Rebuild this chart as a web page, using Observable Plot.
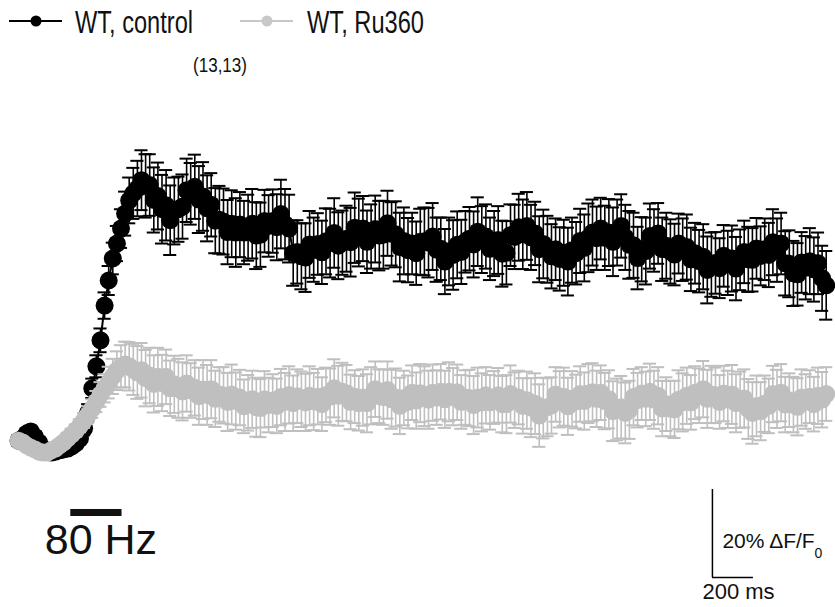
<!DOCTYPE html>
<html><head><meta charset="utf-8">
<script src="https://cdn.jsdelivr.net/npm/d3@7"></script>
<script src="https://cdn.jsdelivr.net/npm/@observablehq/plot@0.6"></script>
<style>
body{margin:0;background:#fff;}
#wrap{position:relative;width:835px;height:607px;overflow:hidden;font-family:"Liberation Sans",Arial,sans-serif;}
#legend{position:absolute;left:0;top:0;}
#chart{position:absolute;left:0;top:0;}
</style></head><body><div id="wrap"><div id="chart"></div></div>
<script>
// ---- data (ΔF/F0 in %, sampled every 20 ms) ----
const sampleIntervalMs = 20;
const seriesNames = ["WT, control", "WT, Ru360"];
const nLabel = "(13,13)";

const controlMean = [
 1.1,1.6,2.7,3.2,2.0,0.7,-0.7,-1.4,-1.6,-1.4,
 -1.1,-0.9,-0.7,-0.2,0.5,1.6,3.9,7.5,13.0,18.0,
 23.9,31.8,37.5,42.5,45.9,49.3,52.7,55.7,57.3,58.4,
 60.3,59.0,59.2,55.8,56.7,53.7,54.6,51.2,53.3,53.7,
 54.3,58.0,57.2,58.8,55.9,56.6,53.9,54.7,51.1,51.3,
 50.9,48.5,50.4,48.4,50.2,48.4,49.5,50.4,47.7,47.9,
 51.0,49.9,51.0,49.6,52.6,50.3,49.3,43.7,44.0,43.0,
 42.7,45.7,44.5,45.8,43.9,46.4,46.0,48.3,45.4,46.1,
 47.0,46.2,49.5,48.4,49.3,46.3,47.5,49.2,47.7,47.9,
 50.5,48.1,48.0,45.1,46.5,44.4,45.9,43.7,46.3,46.4,
 46.1,47.5,44.5,44.7,41.8,44.1,43.3,45.6,44.0,46.3,
 47.0,45.7,48.6,46.8,47.5,44.7,45.9,46.7,43.6,43.8,
 47.8,47.4,49.6,48.0,49.9,47.3,48.2,44.6,45.8,44.6,
 43.0,44.6,42.4,43.8,41.8,44.4,43.7,46.5,44.9,47.2,
 48.4,47.1,49.3,47.2,48.4,46.3,48.4,49.9,47.3,45.6,
 45.5,42.6,44.6,44.2,47.6,46.6,48.2,44.6,45.4,44.1,
 43.4,45.9,44.5,45.1,42.3,43.7,41.9,42.9,39.9,41.1,
 41.5,40.3,43.1,41.5,42.5,40.2,42.2,44.0,42.3,42.2,
 44.8,43.1,44.6,43.3,46.2,44.4,45.9,41.4,41.3,39.1,
 38.9,41.6,40.4,41.9,40.0,41.4,38.0,36.4
];
const controlSem = [
 1.2,1.0,1.1,1.3,1.0,0.9,1.1,1.2,1.0,1.1,1.2,1.0,1.1,1.3,1.2,1.4,
 1.6,1.9,2.2,2.5,2.7,3.0,3.3,3.6,4.0,4.4,5.0,
 5.2,5.8,6.3,6.8,7.2,7.0,7.4,7.6,7.8,8.0,7.9,7.6,7.4,7.3,
 7.2,7.0,7.3,7.6,7.8,7.5,7.2,7.4,7.7,7.5,
 7.3,7.6,7.8,7.4,7.2,7.5,7.9,7.6,7.3,7.1,
 7.0,7.2,7.5,7.8,8.0,7.7,7.4,7.2,7.5,7.8,
 7.6,7.3,7.0,7.2,7.5,7.8,7.9,7.6,7.3,7.5,
 7.8,8.0,7.7,7.4,7.1,7.3,7.6,7.9,7.7,7.4,
 7.2,7.5,7.8,7.6,7.3,7.0,7.2,7.5,7.7,7.9,
 7.6,7.3,7.1,7.4,7.7,7.9,7.6,7.3,7.0,7.2,
 7.5,7.8,7.6,7.3,7.1,7.4,7.7,7.5,7.2,7.0,
 7.3,7.6,7.9,7.7,7.4,7.2,7.5,7.8,7.6,7.3,
 7.0,7.2,7.5,7.7,7.4,7.1,7.3,7.6,7.8,7.5,
 7.2,7.0,7.3,7.6,7.8,7.5,7.2,7.4,7.7,7.4,
 7.1,7.3,7.6,7.4,7.1,6.9,7.2,7.5,7.3,7.0,
 6.8,7.1,7.4,7.2,6.9,7.1,7.4,7.6,7.3,7.0,
 6.8,7.0,7.3,7.5,7.2,6.9,7.1,7.4,7.2,6.9,
 6.7,7.0,7.3,7.5,7.2,7.0,7.3,7.6,7.4,7.1,
 6.9,7.2,7.5,7.3,7.0,7.4,7.8
];
const ru360Mean = [
 1.1,0.7,0.0,-0.5,-0.9,-1.4,-1.6,-1.6,-1.1,-0.7,
 0.0,0.7,1.6,2.5,3.4,4.5,5.7,7.0,8.4,10.0,
 11.6,13.0,14.3,15.7,17.0,18.0,18.4,18.0,17.3,16.6,
 17.1,15.3,15.9,14.0,15.6,14.2,15.6,13.0,13.9,13.0,
 12.3,14.1,12.5,13.1,11.2,12.7,11.5,12.8,10.6,11.6,
 11.4,9.9,11.6,10.1,10.9,8.9,9.7,10.5,8.7,8.5,
 10.5,9.2,10.2,9.0,11.0,9.9,11.5,9.6,11.2,10.5,
 9.8,11.3,10.0,11.1,9.4,11.5,11.1,13.0,11.3,12.2,
 11.9,9.9,11.1,9.6,10.9,9.6,11.3,12.8,11.2,11.0,
 12.6,10.5,10.9,9.0,10.8,9.9,12.0,10.2,11.9,11.2,
 10.4,12.0,10.9,12.2,10.5,12.2,11.1,12.1,9.9,10.9,
 10.8,9.2,10.9,9.8,11.4,9.8,10.9,11.4,9.4,9.4,
 11.7,10.3,10.9,9.0,10.3,8.6,9.5,6.8,8.5,8.7,
 9.1,11.6,10.5,11.1,8.9,10.6,10.0,11.7,10.1,11.8,
 12.1,10.6,12.0,10.1,10.5,7.8,8.2,8.7,7.4,8.1,
 11.0,10.3,11.8,10.6,12.2,10.4,11.3,8.4,9.4,8.4,
 8.2,10.4,9.8,11.3,9.8,12.0,11.3,12.8,10.6,11.6,
 11.4,9.9,11.8,10.5,11.6,9.6,10.4,10.7,8.3,7.4,
 9.0,7.8,9.5,9.0,11.7,10.6,12.0,9.3,10.3,9.3,
 8.8,10.9,10.0,11.1,9.4,11.3,10.4,11.7
];
const ru360Sem = [
 1.0,0.9,1.0,1.1,1.0,0.9,1.0,1.1,1.0,0.9,1.0,1.1,1.2,1.3,1.4,1.5,
 1.7,1.9,2.1,2.4,2.8,3.2,3.6,4.0,4.4,4.8,5.2,
 5.5,5.8,6.0,6.2,6.4,6.3,6.5,6.6,6.4,6.2,
 6.3,6.5,6.7,6.6,6.4,6.2,6.3,6.5,6.7,6.8,
 6.6,6.4,6.2,6.4,6.6,6.8,6.5,6.3,6.1,6.3,
 6.5,6.7,6.6,6.4,6.2,6.0,6.2,6.4,6.6,6.5,
 6.3,6.1,6.3,6.5,6.7,6.5,6.3,6.1,6.2,6.4,
 6.6,6.8,6.6,6.4,6.2,6.0,6.2,6.4,6.6,6.5,
 6.3,6.1,6.3,6.5,6.7,6.6,6.4,6.2,6.0,6.2,
 6.4,6.6,6.8,6.6,6.4,6.2,6.3,6.5,6.7,6.5,
 6.3,6.1,6.2,6.4,6.6,6.8,6.6,6.4,6.2,6.0,
 6.2,6.4,6.6,6.5,6.3,6.1,6.3,6.5,6.7,6.9,
 7.1,6.9,6.6,6.4,6.2,6.4,6.6,6.5,6.3,6.1,
 6.3,6.5,6.7,6.6,6.4,6.2,6.4,6.6,6.8,7.0,
 7.1,6.9,6.6,6.4,6.2,6.0,6.2,6.4,6.6,6.5,
 6.3,6.1,6.3,6.5,6.7,6.6,6.4,6.2,6.0,6.2,
 6.4,6.6,6.5,6.3,6.1,6.3,6.5,6.7,6.6,6.4,
 6.6,6.8,7.0,6.9,6.6,6.4,6.2,6.4,6.6,6.5,
 6.3,6.1,6.3,6.5,6.4,6.2,6.0,6.2,6.4,6.3,6.1
];
// stimulus (80 Hz train) and scale bar, in data units
const stimulus = [{start: 255, end: 505, level: -15.2, label: "80 Hz"}];
const scaleBar = [{t: 3385, v: -30, dt: 200, dv: 20, vLabel: "20% ΔF/F", vSub: "0", tLabel: "200 ms"}];

const colors = {control: "#000000", ru360: "#bfbfbf"};

function build(mean, sem) {
  const n = Math.min(mean.length, sem.length);
  const out = [];
  for (let i = 0; i < n; i++) out.push({t: i * sampleIntervalMs, v: mean[i], e: sem[i]});
  return out;
}
const control = build(controlMean, controlSem);
const ru360 = build(ru360Mean, ru360Sem);

const capHalfMs = 32;
function seriesMarks(data, color) {
  return [
    Plot.line(data, {x: "t", y: "v", stroke: color, strokeWidth: 2}),
    Plot.ruleX(data, {x: "t", y1: d => d.v - d.e, y2: d => d.v + d.e, stroke: color, strokeWidth: 1.6}),
    Plot.ruleY(data, {y: d => d.v + d.e, x1: d => d.t - capHalfMs, x2: d => d.t + capHalfMs, stroke: color, strokeWidth: 2}),
    Plot.ruleY(data, {y: d => d.v - d.e, x1: d => d.t - capHalfMs, x2: d => d.t + capHalfMs, stroke: color, strokeWidth: 2}),
    Plot.dot(data, {x: "t", y: "v", r: 9, fill: color, stroke: "none"})
  ];
}

const chart = Plot.plot({
  width: 835, height: 607,
  marginLeft: 18, marginRight: 9.3, marginTop: 5, marginBottom: 30,
  x: {domain: [0, 3940], axis: null},
  y: {domain: [-30, 100], axis: null},
  style: {fontFamily: "'Liberation Sans', Arial, sans-serif", background: "white", overflow: "visible"},
  marks: [
    ...seriesMarks(control, colors.control),
    ...seriesMarks(ru360, colors.ru360),
    // stimulus bar and label
    Plot.ruleY(stimulus, {y: "level", x1: "start", x2: "end", stroke: "#111", strokeWidth: 7}),
    Plot.text(stimulus, {x: "start", y: "level", text: "label", textAnchor: "start", lineAnchor: "bottom", dx: -26, dy: 42, fontSize: 43, fill: "#111"}),
    // scale bar
    Plot.ruleX(scaleBar, {x: "t", y1: "v", y2: d => d.v + d.dv, stroke: "#000", strokeWidth: 1.5}),
    Plot.ruleY(scaleBar, {y: "v", x1: "t", x2: d => d.t + d.dt, stroke: "#000", strokeWidth: 1.5}),
    Plot.text(scaleBar, {x: "t", y: "v", text: "vLabel", textAnchor: "start", lineAnchor: "bottom", dx: 10, dy: -30, fontSize: 21, fill: "#111"}),
    Plot.text(scaleBar, {x: "t", y: "v", text: "vSub", textAnchor: "start", lineAnchor: "bottom", dx: 102, dy: -20, fontSize: 14, fill: "#111"}),
    Plot.text(scaleBar, {x: "t", y: "v", text: "tLabel", textAnchor: "start", lineAnchor: "bottom", dx: -10, dy: 21, fontSize: 22, fill: "#111"})
  ]
});
document.getElementById("chart").appendChild(chart);

// legend overlay
const leg = d3.select("#wrap").append("svg").attr("id", "legend").attr("width", 835).attr("height", 100)
  .style("font-family", "'Liberation Sans', Arial, sans-serif");
const legendItems = [
  {name: seriesNames[0], color: colors.control, x0: 9, textX: 75, textLen: 118},
  {name: seriesNames[1], color: "#c8c8c8", x0: 240, textX: 307, textLen: 117}
];
legendItems.forEach(it => {
  leg.append("line").attr("x1", it.x0).attr("x2", it.x0 + 53).attr("y1", 21).attr("y2", 21)
    .attr("stroke", it.color).attr("stroke-width", 2);
  leg.append("circle").attr("cx", it.x0 + 27).attr("cy", 21).attr("r", 5.5).attr("fill", it.color);
  leg.append("text").attr("x", it.textX).attr("y", 33).attr("font-size", 32).attr("fill", "#111")
    .attr("textLength", it.textLen).attr("lengthAdjust", "spacingAndGlyphs").text(it.name);
});
leg.append("text").attr("x", 193).attr("y", 72).attr("font-size", 21).attr("fill", "#111")
  .attr("textLength", 54).attr("lengthAdjust", "spacingAndGlyphs").text(nLabel);
</script></body></html>
